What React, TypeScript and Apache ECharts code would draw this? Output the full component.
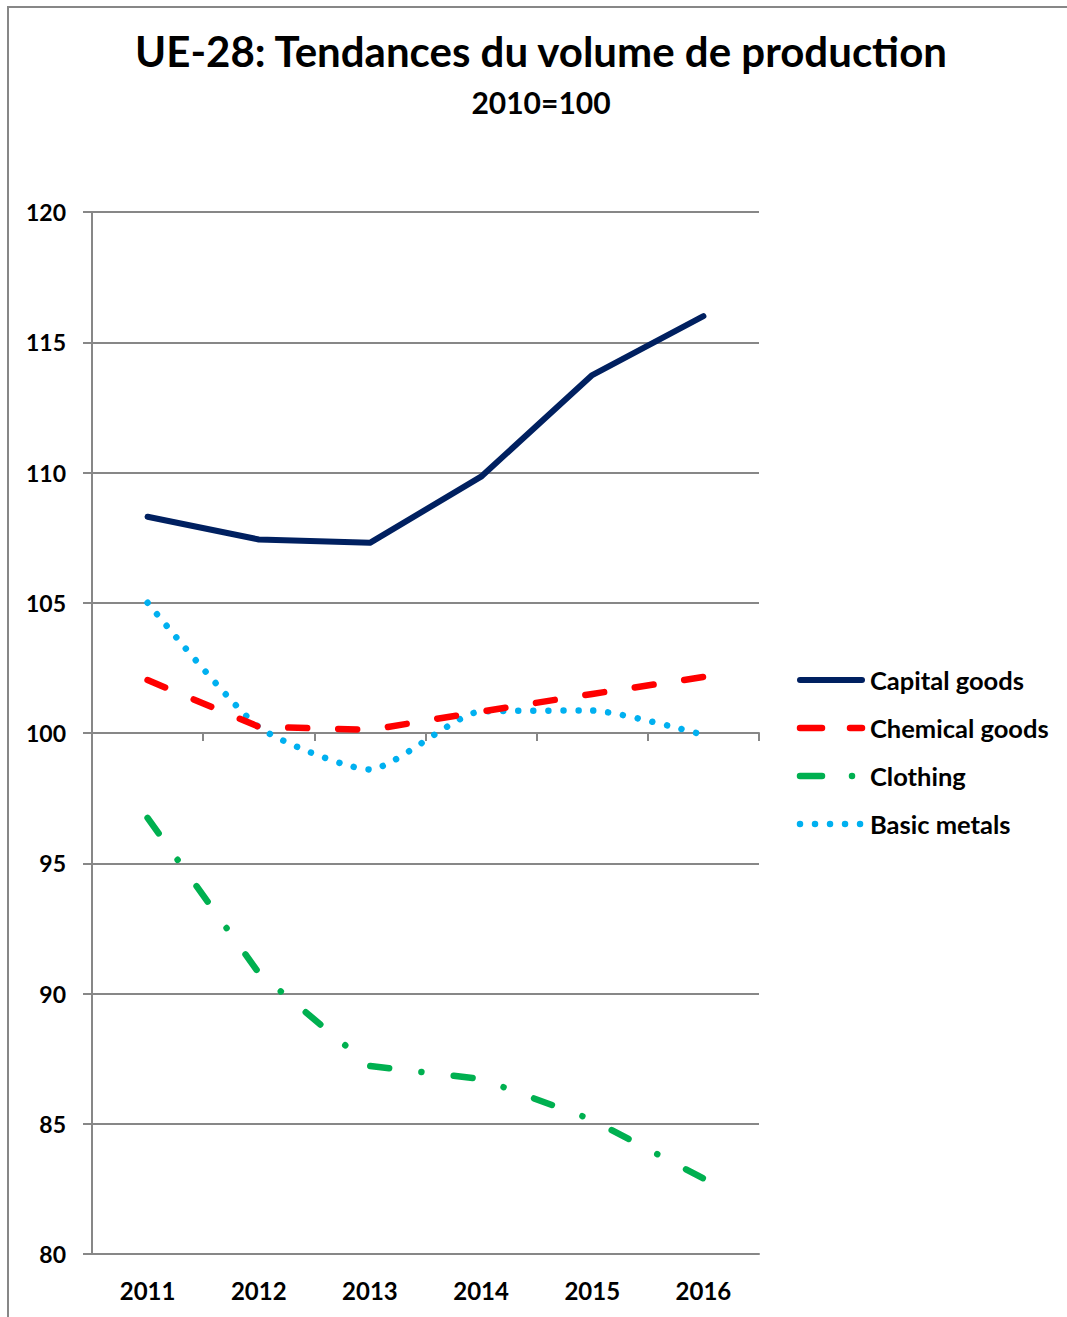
import React, { useEffect, useRef } from "react";
import * as echarts from "echarts";

// Production volume index, EU-28, 2010 = 100
const years = ["2011", "2012", "2013", "2014", "2015", "2016"];
const capitalGoods = [108.3, 107.43, 107.3, 109.84, 113.74, 116.0];
const chemicalGoods = [102.03, 100.24, 100.12, 100.82, 101.5, 102.15];
const clothing = [96.74, 90.79, 87.22, 86.72, 85.15, 82.9];
const basicMetals = [105.0, 100.23, 98.6, 100.83, 100.86, 99.93];

const seriesNames = ["Capital goods", "Chemical goods", "Clothing", "Basic metals"];
const yTicks = { min: 80, max: 120, step: 5 };

const titleText = "UE-28: Tendances du volume de production";
const subtitleText = "2010=100";

const FONT = "Lato, 'Open Sans', sans-serif";
const GRID_GRAY = "#878787";

// line look of each series: colour, width and dash pattern
const seriesStyles = [
  { color: "#002060", width: 6, dash: null as number[] | null, legendDash: null as number[] | null },
  { color: "#ff0000", width: 6.5, dash: [19, 31], legendDash: [22, 28] },
  { color: "#00b050", width: 6.5, dash: [19, 32.5, 0.01, 32.5], legendDash: [22, 30, 0.01, 100] },
  { color: "#00b0f0", width: 6.5, dash: [0.01, 15], legendDash: [0.01, 15] },
];

export default function App() {
  const ref = useRef<HTMLDivElement>(null);

  useEffect(() => {
    if (!ref.current) return;
    const chart = echarts.init(ref.current, undefined, { renderer: "svg" });

    const gridTop = 212;
    const gridBottom = 63;
    const plotH = 1317 - gridTop - gridBottom;
    // distance from the bottom axis (80) up to the 100 baseline
    const baselineOffset = -((100 - yTicks.min) / (yTicks.max - yTicks.min)) * plotH;

    // hand-drawn legend on the right of the plot
    const legendX = 800;
    const legendTop = 680;
    const legendStep = 48;
    const legendItems: any[] = [];
    seriesNames.forEach((name, i) => {
      const s = seriesStyles[i];
      const y = legendTop + i * legendStep;
      legendItems.push({
        type: "line",
        shape: { x1: legendX, y1: y, x2: legendX + 62, y2: y },
        style: {
          stroke: s.color,
          lineWidth: s.width,
          lineCap: "round",
          lineDash: s.legendDash || undefined,
        },
        silent: true,
      });
      legendItems.push({
        type: "text",
        x: 870,
        y: y,
        style: {
          text: name,
          font: `bold 25.5px ${FONT}`,
          fill: "#000",
          textAlign: "left",
          textVerticalAlign: "middle",
        },
        silent: true,
      });
    });

    const option: echarts.EChartsOption = {
      animation: false,
      backgroundColor: "#ffffff",
      graphic: [
        {
          type: "rect",
          shape: { x: 8, y: 7, width: 1300, height: 1500 },
          style: { fill: "none", stroke: GRID_GRAY, lineWidth: 2 },
          silent: true,
        },
        {
          type: "text",
          x: 541,
          y: 51,
          style: {
            text: titleText,
            font: `bold 42px ${FONT}`,
            fill: "#000",
            textAlign: "center",
            textVerticalAlign: "middle",
          },
        },
        {
          type: "text",
          x: 541,
          y: 102,
          style: {
            text: subtitleText,
            font: `bold 30px ${FONT}`,
            fill: "#000",
            textAlign: "center",
            textVerticalAlign: "middle",
          },
        },
        ...legendItems,
      ],
      grid: { left: 92, right: 308, top: gridTop, bottom: gridBottom },
      xAxis: [
        {
          type: "category",
          data: years,
          boundaryGap: true,
          axisLine: { show: true, lineStyle: { color: GRID_GRAY, width: 2 } },
          axisTick: { show: false },
          axisLabel: {
            margin: 24,
            fontFamily: FONT,
            fontWeight: "bold",
            fontSize: 24,
            color: "#000",
          },
          splitLine: { show: false },
        },
        {
          // category baseline drawn at 100
          type: "category",
          data: years,
          position: "bottom",
          offset: baselineOffset,
          boundaryGap: true,
          axisLine: { show: true, lineStyle: { color: GRID_GRAY, width: 2 } },
          axisTick: { show: true, length: 8, lineStyle: { color: GRID_GRAY, width: 2 } },
          axisLabel: { show: false },
          splitLine: { show: false },
        },
      ],
      yAxis: {
        type: "value",
        min: yTicks.min,
        max: yTicks.max,
        interval: yTicks.step,
        axisLine: { show: true, lineStyle: { color: GRID_GRAY, width: 2 } },
        axisTick: { show: true, length: 9, lineStyle: { color: GRID_GRAY, width: 2 } },
        axisLabel: {
          margin: 26,
          fontFamily: FONT,
          fontWeight: "bold",
          fontSize: 23,
          color: "#000",
        },
        splitLine: { show: true, lineStyle: { color: GRID_GRAY, width: 2 } },
      },
      series: [
        {
          name: seriesNames[0],
          type: "line",
          data: capitalGoods,
          symbol: "none",
          color: seriesStyles[0].color,
          lineStyle: { color: seriesStyles[0].color, width: seriesStyles[0].width, cap: "round", join: "round" },
          z: 5,
        },
        {
          name: seriesNames[1],
          type: "line",
          data: chemicalGoods,
          symbol: "none",
          color: seriesStyles[1].color,
          lineStyle: {
            color: seriesStyles[1].color,
            width: seriesStyles[1].width,
            type: seriesStyles[1].dash as number[],
            cap: "round",
            join: "round",
          },
          z: 4,
        },
        {
          name: seriesNames[2],
          type: "line",
          data: clothing,
          symbol: "none",
          color: seriesStyles[2].color,
          lineStyle: {
            color: seriesStyles[2].color,
            width: seriesStyles[2].width,
            type: seriesStyles[2].dash as number[],
            cap: "round",
            join: "round",
          },
          z: 4,
        },
        {
          name: seriesNames[3],
          type: "line",
          data: basicMetals,
          symbol: "none",
          smooth: 0.2,
          color: seriesStyles[3].color,
          lineStyle: {
            color: seriesStyles[3].color,
            width: seriesStyles[3].width,
            type: seriesStyles[3].dash as number[],
            cap: "round",
          },
          z: 3,
        },
      ],
    };

    chart.setOption(option);
    return () => chart.dispose();
  }, []);

  return (
    <div
      ref={ref}
      style={{ position: "absolute", left: 0, top: 0, width: 1067, height: 1317, background: "#fff" }}
    />
  );
}
